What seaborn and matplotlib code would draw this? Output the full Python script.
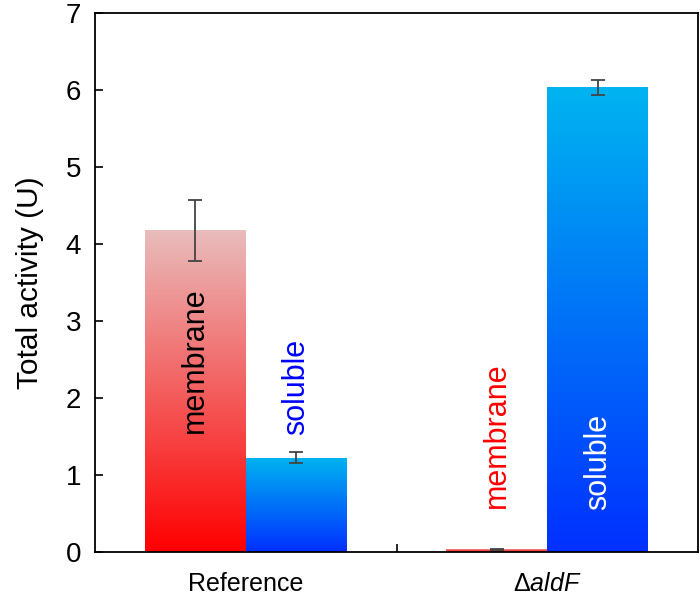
import numpy as np
import pandas as pd
import matplotlib
matplotlib.use("Agg")
import matplotlib.pyplot as plt
import seaborn as sns
from matplotlib.colors import LinearSegmentedColormap

# dati
strains = ["Reference", "dAldF"]
strain_labels = ["Reference", r"$\Delta\mathit{aldF}$"]
fractions = ["membrane", "soluble"]
membrane_vals = [4.18, 0.04]
membrane_err = [0.40, 0.01]
soluble_vals = [1.23, 6.04]
soluble_err = [0.07, 0.10]

df = pd.DataFrame({
    "strain": strains * 2,
    "fraction": ["membrane"] * 2 + ["soluble"] * 2,
    "activity": membrane_vals + soluble_vals,
    "err": membrane_err + soluble_err,
})

sns.set_style("white")
plt.rcParams["font.family"] = ["Liberation Sans", "DejaVu Sans"]
plt.rcParams["mathtext.fontset"] = "custom"
plt.rcParams["mathtext.rm"] = "Liberation Sans"
plt.rcParams["mathtext.it"] = "Liberation Sans:italic"
plt.rcParams["text.color"] = "black"
plt.rcParams["xtick.color"] = "black"
plt.rcParams["ytick.color"] = "black"
plt.rcParams["axes.labelcolor"] = "black"

fig, ax = plt.subplots(figsize=(7, 6.05), dpi=100)
sns.barplot(data=df, x="strain", y="activity", hue="fraction", order=strains,
            hue_order=fractions, width=0.67, errorbar=None, legend=False, ax=ax,
            palette=["red", "blue"])

# gradienti
cmap_red = LinearSegmentedColormap.from_list("r", ["#ff0000", "#e9bcbc"])
cmap_blue = LinearSegmentedColormap.from_list("b", ["#0030ff", "#00b4f0"])
grad = np.linspace(0, 1, 256).reshape(-1, 1)
for i, patch in enumerate(ax.patches):
    x0, y0 = patch.get_x(), patch.get_y()
    w, h = patch.get_width(), patch.get_height()
    cmap = cmap_red if i < 2 else cmap_blue
    im = ax.imshow(grad, extent=(x0, x0 + w, y0, y0 + h), origin="lower",
                   cmap=cmap, aspect="auto", zorder=patch.get_zorder())
    im.set_clip_path(patch)
    patch.set_facecolor("none")
    patch.set_edgecolor("none")

# barre di errore
for i, patch in enumerate(ax.patches):
    xc = patch.get_x() + patch.get_width() / 2
    row = df.iloc[i]
    ax.errorbar(xc, row["activity"], yerr=row["err"], fmt="none",
                ecolor="#444444", elinewidth=1.3, capsize=5, capthick=1.3, zorder=5)

# etichette nelle barre
bw = 0.67 / 2
ax.text(0 - bw / 2, 2.49, "membrane", rotation=90, ha="center", va="center",
        fontsize=22, color="black")
ax.text(0 + bw / 2, 2.15, "soluble", rotation=90, ha="center", va="center",
        fontsize=22, color="blue")
ax.text(1 - bw / 2, 1.52, "membrane", rotation=90, ha="center", va="center",
        fontsize=22, color="red")
ax.text(1 + bw / 2, 1.18, "soluble", rotation=90, ha="center", va="center",
        fontsize=22, color="white")

ax.set_xlim(-0.5, 1.5)
ax.set_ylim(0, 7)
ax.set_yticks(range(0, 8))
ax.set_xticks([0, 1])
ax.set_xticklabels(strain_labels, fontsize=18)
ax.set_xticks([0.5], minor=True)
ax.tick_params(axis="x", which="major", length=0, pad=14)
ax.tick_params(axis="x", which="minor", direction="in", length=6, width=1.2, bottom=True)
ax.tick_params(axis="y", direction="in", length=6, width=1.2, left=True, labelsize=20, pad=10)
ax.set_xlabel("")
ax.set_ylabel("Total activity (U)", fontsize=21.5, labelpad=16)
for s in ax.spines.values():
    s.set_color("black")
    s.set_linewidth(1.3)

fig.subplots_adjust(left=0.136, right=0.997, top=0.978, bottom=0.087)
fig.savefig("out.png", dpi=100)
